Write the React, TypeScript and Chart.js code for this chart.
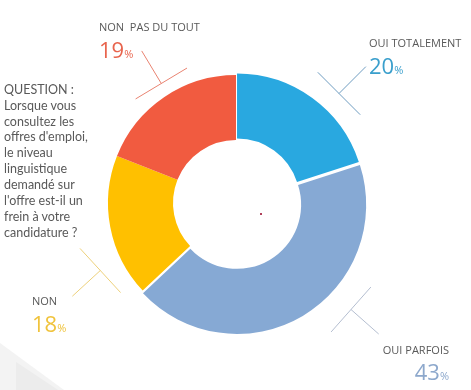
import React, { useEffect, useRef } from "react";
import { Chart, registerables } from "chart.js";

Chart.register(...registerables);

const categories = ["OUI TOTALEMENT", "OUI PARFOIS", "NON", "NON  PAS DU TOUT"];
const values = [20, 43, 18, 19];
const sliceColors = ["#29A8E0", "#86A9D4", "#FFC000", "#F15B40"];
const sliceOffsets = [7, 8, 0, 0];
const percentColors = ["#3A9FCC", "#8DA8CC", "#F0C33C", "#E8644D"];
const questionLines = [
  "QUESTION :",
  "Lorsque vous",
  "consultez les",
  "offres d'emploi,",
  "le niveau",
  "linguistique",
  "demandé sur",
  "l'offre est-il un",
  "frein à votre",
  "candidature ?",
];

// decorative leader lines: tangent centre relative to doughnut centre, direction (deg clockwise from top)
const leaders = [
  { dx: 103, dy: -109.5, angle: 45, half: 30, len: 38, color: "#6E9CC0" },
  { dx: 115, dy: 106.5, angle: 131.5, half: 30, len: 37, color: "#B4BED0" },
  { dx: -135.7, dy: 67.5, angle: 227.4, half: 30, len: 38, color: "#EDD07A" },
  { dx: -74.7, dy: -119.5, angle: 329, half: 30, len: 38, color: "#E98371" },
];

const leaderPlugin = {
  id: "leaders",
  afterDraw(chart: any) {
    const arc = chart.getDatasetMeta(0).data[2];
    if (!arc) return;
    const cx = arc.x;
    const cy = arc.y;
    const ctx = chart.ctx;
    ctx.save();
    ctx.lineWidth = 1;
    leaders.forEach((l) => {
      const a = (l.angle * Math.PI) / 180;
      const ux = Math.sin(a);
      const uy = -Math.cos(a);
      const mx = cx + l.dx;
      const my = cy + l.dy;
      ctx.strokeStyle = l.color;
      ctx.beginPath();
      ctx.moveTo(mx - uy * l.half, my + ux * l.half);
      ctx.lineTo(mx + uy * l.half, my - ux * l.half);
      ctx.moveTo(mx, my);
      ctx.lineTo(mx + ux * l.len, my + uy * l.len);
      ctx.stroke();
    });
    ctx.restore();
  },
};

const labelFont = "'Open Sans', 'Noto Sans', sans-serif";
const textGray = "#595959";

function Label(props: {
  name: string;
  value: number;
  color: string;
  left?: number;
  right?: number;
  nameY: number;
  valueY: number;
}) {
  const nameFs = 11;
  const valFs = 22;
  const base: any = { position: "absolute", whiteSpace: "pre", fontFamily: labelFont };
  if (props.left !== undefined) base.left = props.left;
  if (props.right !== undefined) { base.right = props.right; base.textAlign = "right"; }
  return (
    <>
      <div style={{ ...base, top: props.nameY - 0.53 * nameFs, fontSize: nameFs, lineHeight: `${nameFs}px`, color: textGray }}>
        {props.name}
      </div>
      <div style={{ ...base, top: props.valueY - 0.53 * valFs, fontSize: valFs, lineHeight: `${valFs}px`, color: props.color }}>
        {props.value}
        <span style={{ fontSize: 11 }}>%</span>
      </div>
    </>
  );
}

export default function App() {
  const canvasRef = useRef<HTMLCanvasElement | null>(null);

  useEffect(() => {
    if (!canvasRef.current) return;
    const chart = new Chart(canvasRef.current, {
      type: "doughnut",
      data: {
        labels: categories,
        datasets: [
          {
            data: values,
            backgroundColor: sliceColors,
            borderWidth: 0,
            offset: sliceOffsets,
            hoverOffset: 0,
          } as any,
        ],
      },
      options: {
        responsive: false,
        animation: false,
        radius: 128,
        cutout: "49.2%",
        layout: { padding: { left: 1, right: 0, top: 16, bottom: 0 } },
        plugins: { legend: { display: false }, tooltip: { enabled: false } },
        events: [],
      } as any,
      plugins: [leaderPlugin],
    });
    return () => chart.destroy();
  }, []);

  return (
    <div style={{ position: "fixed", left: 0, top: 0, width: 471, height: 390, background: "#fff", overflow: "hidden" }}>
      <svg width={471} height={390} style={{ position: "absolute", left: 0, top: 0 }}>
        <polygon points="0,343 64,390 0,390" fill="#f3f3f3" />
        <polygon points="16,362 58,390 16,390" fill="#ececec" />
      </svg>
      <canvas ref={canvasRef} width={471} height={390} style={{ position: "absolute", left: 0, top: 0 }} />
      <div style={{ position: "absolute", left: 260, top: 213, width: 2, height: 2, background: "#b0405a" }} />
      <div
        style={{
          position: "absolute",
          left: 4,
          top: 81.7,
          fontFamily: "Lato, 'Open Sans', sans-serif",
          fontSize: 12.5,
          lineHeight: "15.9px",
          color: textGray,
          whiteSpace: "pre",
        }}
      >
        {questionLines.map((t, i) => (
          <div key={i}>{t}</div>
        ))}
      </div>
      <Label name={categories[3]} value={values[3]} color={percentColors[3]} left={99} nameY={27} valueY={49.5} />
      <Label name={categories[0]} value={values[0]} color={percentColors[0]} left={369} nameY={43} valueY={66} />
      <Label name={categories[2]} value={values[2]} color={percentColors[2]} left={32} nameY={301} valueY={324} />
      <Label name={categories[1]} value={values[1]} color={percentColors[1]} right={471 - 449} nameY={349.5} valueY={372} />
    </div>
  );
}
